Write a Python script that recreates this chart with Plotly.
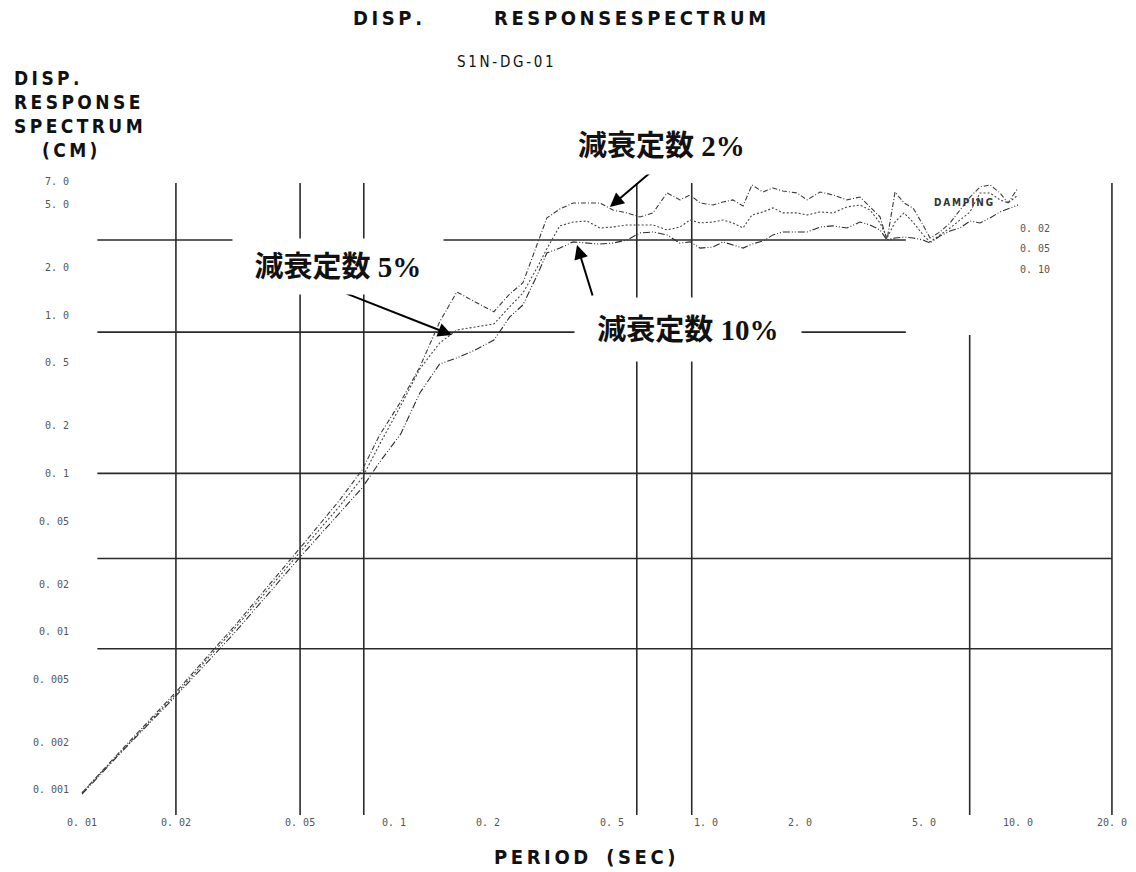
import math
import plotly.graph_objects as go

# ---- response spectrum data (period in s, displacement in cm) ----
period = [0.01, 0.0132, 0.02, 0.031, 0.05, 0.067, 0.079, 0.09, 0.105, 0.121,
          0.14, 0.159, 0.182, 0.209, 0.235, 0.259, 0.287, 0.309, 0.34, 0.375,
          0.415, 0.457, 0.503, 0.558, 0.614, 0.676, 0.75, 0.825, 0.889, 0.957,
          1.053, 1.134, 1.22, 1.314, 1.404, 1.523, 1.639, 1.765, 1.958, 2.108,
          2.32, 2.554, 2.83, 3.116, 3.354, 3.612, 3.803, 4.035, 4.311, 4.608,
          4.961, 5.224, 5.623, 6.055, 6.518, 7.019, 7.554, 8.134, 8.756, 9.288, 10.0]

sd_h2 = [0.00096, 0.00174, 0.00416, 0.0110, 0.0338, 0.0679, 0.105, 0.175, 0.283, 0.470,
         0.904, 1.40, 1.21, 1.05, 1.36, 1.60, 2.77, 4.11, 4.68, 5.11,
         5.11, 5.11, 4.61, 4.42, 4.17, 4.42, 5.91, 5.34, 5.74, 5.11,
         4.96, 5.18, 5.34, 4.89, 6.64, 5.99, 6.35, 6.08, 5.91, 5.34,
         5.99, 5.74, 5.34, 5.57, 4.82, 4.17, 2.98, 5.99, 5.11, 4.75,
         3.71, 3.07, 3.35, 3.82, 4.61, 5.57, 6.45, 6.64, 5.91, 5.11, 6.35]

sd_h5 = [0.00096, 0.00171, 0.00404, 0.0106, 0.0319, 0.0623, 0.0935, 0.153, 0.267, 0.457,
         0.666, 0.805, 0.841, 0.879, 1.13, 1.38, 1.98, 2.62, 3.66, 3.87,
         3.93, 3.55, 3.60, 3.71, 3.71, 3.71, 3.45, 3.60, 3.99, 3.82,
         3.87, 3.99, 3.82, 3.55, 4.29, 4.48, 4.75, 4.42, 4.42, 4.29,
         4.48, 4.42, 4.82, 4.96, 4.61, 3.82, 3.07, 3.87, 4.42, 3.87,
         3.21, 2.90, 3.21, 3.55, 3.99, 4.48, 5.91, 5.91, 5.34, 5.11, 5.74]

sd_h10 = [0.00094, 0.00169, 0.00393, 0.00996, 0.0296, 0.0562, 0.0809, 0.118, 0.177, 0.322,
          0.491, 0.536, 0.602, 0.696, 0.973, 1.16, 1.77, 2.47, 2.65, 2.90,
          2.85, 2.81, 2.85, 2.98, 3.30, 3.35, 3.21, 2.85, 2.90, 2.65,
          2.69, 2.90, 2.77, 2.65, 2.81, 2.94, 3.21, 3.35, 3.35, 3.35,
          3.60, 3.66, 3.55, 3.87, 3.71, 3.45, 2.98, 3.07, 3.11, 3.07,
          2.98, 2.85, 3.16, 3.40, 3.55, 3.93, 3.82, 4.11, 4.48, 4.68, 4.96]

damping_values = ["0. 02", "0. 05", "0. 10"]

x_tick_vals = [0.01, 0.02, 0.05, 0.1, 0.2, 0.5, 1.0, 2.0, 5.0, 10.0, 20.0]
x_tick_text = ["0. 01", "0. 02", "0. 05", "0. 1", "0. 2", "0. 5", "1. 0", "2. 0",
               "5. 0", "10. 0", "20. 0"]
y_tick_vals = [7.0, 5.0, 2.0, 1.0, 0.5, 0.2, 0.1, 0.05, 0.02, 0.01, 0.005, 0.002, 0.001]
y_tick_text = ["7. 0", "5. 0", "2. 0", "1. 0", "0. 5", "0. 2", "0. 1", "0. 05",
               "0. 02", "0. 01", "0. 005", "0. 002", "0. 001"]

# plotter sheet grid lines: (position, start, end)
grid_vertical = [(0.02, 0.0, 0.997), (0.05, 0.0, 0.997), (0.08, 0.0, 0.997),
                 (0.6, 0.0, 0.997), (0.9, 0.0, 0.997), (7.0, 0.0, 0.757), (20.0, 0.0, 0.997)]
grid_horizontal = [(2.98, 0.0112, 4.37), (0.78, 0.0112, 4.37), (0.1, 0.0112, 20.0),
                   (0.029, 0.0112, 20.0), (0.0078, 0.0112, 20.0)]

# labels for the damping curves: text, arrow tip (period, disp), tail offset px
callouts = [
    ("減衰定数 2%", 0.492, 4.82, 47, -40),
    ("減衰定数 5%", 0.1534, 0.748, -107, -42),
    ("減衰定数 10%", 0.386, 2.77, 16, 52),
]
# label box centres / sizes in page pixels
callout_boxes = [(661, 146, 185, 56), (338, 266, 210, 55), (688, 329, 226, 63)]

W, H = 1136, 872
L, R, T, B = 70, 11, 181, 57
PW, PH = W - L - R, H - T - B


def px_x(px):
    return (px - L) / PW


def px_y(py):
    return (H - B - py) / PH


def spaced(s, sep="\u2009"):
    return sep.join(s)


LABEL_FONT = "DejaVu Sans Condensed, Liberation Sans Narrow, sans-serif"
TICK_FONT = dict(family="DejaVu Sans Mono, monospace", size=10, color="#555555")

fig = go.Figure()

curve_styles = [
    (sd_h2, "0.02", "#3a3a3a", "5px,2px,1px,2px"),
    (sd_h5, "0.05", "#444444", "2px,2px"),
    (sd_h10, "0.10", "#2e2e2e", "7px,2px,1px,2px,1px,2px"),
]
for values, name, color, dash in curve_styles:
    fig.add_trace(go.Scatter(
        x=period, y=values, mode="lines", name=name,
        line=dict(color=color, width=1.1, dash=dash),
        showlegend=False, hoverinfo="skip",
    ))

shapes = []
for xv, y0, y1 in grid_vertical:
    shapes.append(dict(type="line", xref="x", yref="paper", x0=xv, x1=xv, y0=y0, y1=y1,
                       line=dict(color="#2a2a2a", width=1.6), layer="below"))
for yv, x0, x1 in grid_horizontal:
    shapes.append(dict(type="line", xref="x", yref="y", x0=x0, x1=x1, y0=yv, y1=yv,
                       line=dict(color="#2a2a2a", width=1.6), layer="below"))

annotations = []


def page_text(text, px, py, size, anchor="left", color="#111111", weight="bold",
              family=LABEL_FONT):
    annotations.append(dict(
        text=text, xref="paper", yref="paper", x=px_x(px), y=px_y(py),
        xanchor=anchor, yanchor="middle", showarrow=False,
        font=dict(family=family, size=size, color=color, weight=weight),
    ))


# titles
page_text(spaced("DISP."), 351, 18, 20)
page_text(spaced("RESPONSESPECTRUM"), 492, 18, 20)
page_text(spaced("S1N-DG-01"), 455, 62, 15, weight="normal")
page_text(spaced("DISP."), 12, 78, 19)
page_text(spaced("RESPONSE"), 12, 102, 19)
page_text(spaced("SPECTRUM"), 12, 126, 19)
page_text(spaced("(CM)"), 40, 150, 19)
page_text(spaced("PERIOD") + "\u2003" + spaced("(SEC)"), 492, 857, 20)

# damping key
page_text(spaced("DAMPING"), 932, 202, 10, color="#333333")
for i, lbl in enumerate(damping_values):
    page_text(lbl, 1018, 228 + 20.5 * i, 10, color="#555555", weight="normal",
              family="DejaVu Sans Mono, monospace")

# callout boxes and arrows
for (text, tx, ty, ax, ay), (cx, cy, bw, bh) in zip(callouts, callout_boxes):
    annotations.append(dict(
        text="", xref="x", yref="y", x=math.log10(tx), y=math.log10(ty),
        ax=ax, ay=ay, showarrow=True, arrowhead=2, arrowsize=1.4, arrowwidth=2,
        arrowcolor="#000000", standoff=0,
    ))
    annotations.append(dict(
        text=text, xref="paper", yref="paper", x=px_x(cx), y=px_y(cy),
        xanchor="center", yanchor="middle", showarrow=False,
        width=bw, height=bh, bgcolor="#ffffff", borderpad=0,
        font=dict(family="Liberation Serif, Noto Sans CJK JP, serif", size=29,
                  color="#111111", weight="bold"),
    ))

fig.update_layout(
    width=W, height=H,
    margin=dict(l=L, r=R, t=T, b=B, autoexpand=False),
    paper_bgcolor="#ffffff", plot_bgcolor="#ffffff",
    shapes=shapes, annotations=annotations,
    xaxis=dict(
        type="log", range=[-2.0385, 1.3429], showgrid=False, zeroline=False,
        showline=False, ticks="", tickvals=x_tick_vals, ticktext=x_tick_text,
        tickfont=TICK_FONT,
    ),
    yaxis=dict(
        type="log", range=[-3.158, 0.847], showgrid=False, zeroline=False,
        showline=False, ticks="", tickvals=y_tick_vals, ticktext=y_tick_text,
        tickfont=TICK_FONT,
    ),
)

fig.write_html("out.html")
